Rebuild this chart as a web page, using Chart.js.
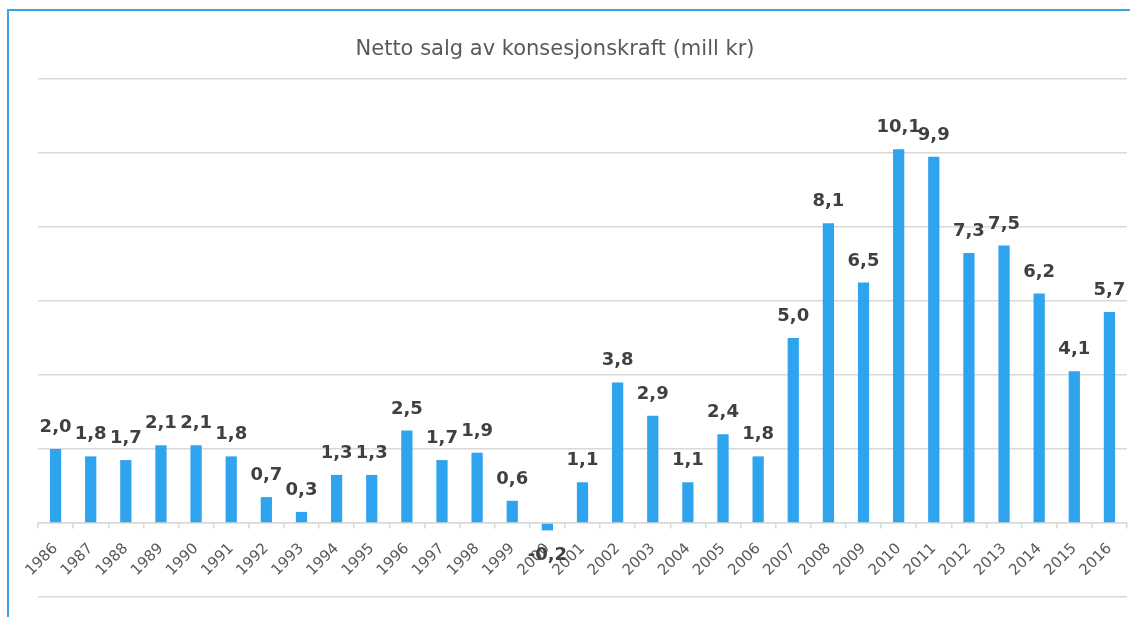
<!DOCTYPE html>
<html>
<head>
<meta charset="utf-8">
<script src="https://cdn.jsdelivr.net/npm/chart.js@4.4.1/dist/chart.umd.min.js"></script>
<style>
  html, body { margin: 0; padding: 0; background: #fff; }
  #wrap { position: relative; width: 1130px; height: 617px; overflow: hidden; }
  #frame {
    position: absolute; left: 7px; top: 9px; right: -10px; bottom: -10px;
    border-left: 2px solid #3AA2EA; border-top: 2px solid #3AA2EA;
    pointer-events: none;
  }
  canvas { position: absolute; left: 0; top: 0; }
</style>
</head>
<body>
<div id="wrap">
  <canvas id="salgChart" width="1130" height="617"></canvas>
  <div id="frame"></div>
</div>
<script>
const years = ['1986', '1987', '1988', '1989', '1990', '1991', '1992', '1993', '1994', '1995',
  '1996', '1997', '1998', '1999', '2000', '2001', '2002', '2003', '2004', '2005',
  '2006', '2007', '2008', '2009', '2010', '2011', '2012', '2013', '2014', '2015', '2016'];
const salg = [2.0, 1.8, 1.7, 2.1, 2.1, 1.8, 0.7, 0.3, 1.3, 1.3,
  2.5, 1.7, 1.9, 0.6, -0.2, 1.1, 3.8, 2.9, 1.1, 2.4,
  1.8, 5.0, 8.1, 6.5, 10.1, 9.9, 7.3, 7.5, 6.2, 4.1, 5.7];
const yMin = -2, yMax = 12, yStep = 2;
const title = 'Netto salg av konsesjonskraft (mill kr)';

const fontName = '"DejaVu Sans", Lato, sans-serif';

// tittel, sentrert over hele figuren (ikke bare plottet)
const chartTitle = {
  id: 'chartTitle',
  afterDraw(chart) {
    const ctx = chart.ctx;
    ctx.save();
    ctx.font = '21px ' + fontName;
    ctx.fillStyle = '#595959';
    ctx.textAlign = 'center';
    ctx.textBaseline = 'alphabetic';
    ctx.fillText(title, 555, 55);
    ctx.restore();
  }
};

// verdier over/under stolpene, norsk desimalkomma
const valueLabels = {
  id: 'valueLabels',
  afterDatasetsDraw(chart) {
    const ctx = chart.ctx;
    const meta = chart.getDatasetMeta(0);
    ctx.save();
    ctx.font = 'bold 18px ' + fontName;
    ctx.fillStyle = '#404040';
    ctx.textAlign = 'center';
    meta.data.forEach((bar, i) => {
      const v = salg[i];
      const txt = v.toFixed(1).replace('.', ',');
      if (v >= 0) {
        ctx.textBaseline = 'alphabetic';
        ctx.fillText(txt, bar.x, bar.y - 17);
      } else {
        ctx.textBaseline = 'top';
        ctx.fillText(txt, bar.x, bar.y + 16);
      }
    });
    ctx.restore();
  }
};

new Chart(document.getElementById('salgChart'), {
  type: 'bar',
  data: {
    labels: years,
    datasets: [{
      label: 'Netto salg',
      data: salg,
      backgroundColor: '#2EA3EE',
      borderWidth: 0,
      categoryPercentage: 1,
      barPercentage: 0.32
    }]
  },
  options: {
    responsive: false,
    animation: false,
    layout: { padding: { left: 38, right: 3, top: 79, bottom: 20 } },
    plugins: {
      legend: { display: false },
      tooltip: { enabled: false },
      title: { display: false }
    },
    scales: {
      x: {
        position: { y: 0 },
        afterFit(scale) {
          // skrå etiketter skal ikke krympe plottet
          scale.paddingLeft = 0;
          scale.paddingRight = 0;
        },
        grid: {
          drawOnChartArea: false,
          drawTicks: true,
          tickLength: 5,
          color: '#D9D9D9',
          lineWidth: 1.5
        },
        border: { display: true, color: '#D9D9D9', width: 1.5 },
        ticks: {
          color: '#595959',
          font: { family: fontName, size: 15 },
          minRotation: 45,
          maxRotation: 45,
          padding: 12,
          autoSkip: false
        }
      },
      y: {
        min: yMin,
        max: yMax,
        grid: { color: '#D9D9D9', lineWidth: 1.5, drawTicks: false },
        border: { display: false },
        ticks: { display: false, stepSize: yStep }
      }
    }
  },
  plugins: [valueLabels, chartTitle]
});
</script>
</body>
</html>
